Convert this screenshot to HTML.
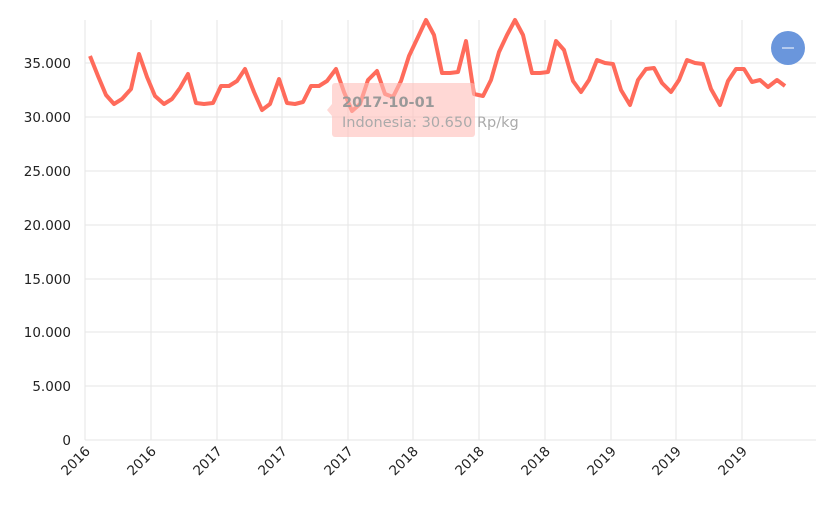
<!DOCTYPE html>
<html><head><style>body{margin:0;background:#fff;}svg{font-family:"DejaVu Sans","Liberation Sans",sans-serif;}</style></head>
<body>
<svg width="836" height="500" viewBox="0 0 836 500">
<g stroke="#e6e6e6" stroke-width="1">
<line x1="85" y1="440" x2="816" y2="440"/><line x1="85" y1="386" x2="816" y2="386"/><line x1="85" y1="332" x2="816" y2="332"/><line x1="85" y1="279" x2="816" y2="279"/><line x1="85" y1="225" x2="816" y2="225"/><line x1="85" y1="171" x2="816" y2="171"/><line x1="85" y1="117" x2="816" y2="117"/><line x1="85" y1="63" x2="816" y2="63"/>
<line x1="85" y1="20" x2="85" y2="440"/><line x1="151" y1="20" x2="151" y2="440"/><line x1="217" y1="20" x2="217" y2="440"/><line x1="282" y1="20" x2="282" y2="440"/><line x1="348" y1="20" x2="348" y2="440"/><line x1="413" y1="20" x2="413" y2="440"/><line x1="479" y1="20" x2="479" y2="440"/><line x1="545" y1="20" x2="545" y2="440"/><line x1="611" y1="20" x2="611" y2="440"/><line x1="676" y1="20" x2="676" y2="440"/><line x1="742" y1="20" x2="742" y2="440"/>
</g>
<g font-size="13.5" fill="#222" text-anchor="end">
<text x="71" y="445">0</text><text x="71" y="391">5.000</text><text x="71" y="337">10.000</text><text x="71" y="284">15.000</text><text x="71" y="230">20.000</text><text x="71" y="176">25.000</text><text x="71" y="122">30.000</text><text x="71" y="68">35.000</text>
</g>
<g font-size="13.5" fill="#222" text-anchor="end">
<text transform="translate(91,452) rotate(-45)">2016</text><text transform="translate(157,452) rotate(-45)">2016</text><text transform="translate(223,452) rotate(-45)">2017</text><text transform="translate(288,452) rotate(-45)">2017</text><text transform="translate(354,452) rotate(-45)">2017</text><text transform="translate(419,452) rotate(-45)">2018</text><text transform="translate(485,452) rotate(-45)">2018</text><text transform="translate(551,452) rotate(-45)">2018</text><text transform="translate(617,452) rotate(-45)">2019</text><text transform="translate(682,452) rotate(-45)">2019</text><text transform="translate(748,452) rotate(-45)">2019</text>
</g>
<polyline fill="none" stroke="#ff6b5b" stroke-width="4" stroke-linejoin="round" points="90,56 98,76 106,95 114,104 122,99 131,89 139,54 147,77 155,96 164,104 172,99 180,88 188,74 196,103 204,104 213,103 221,86 229,86 237,81 245,69 254,92 262,110 270,104 279,79 287,103 295,104 303,102 311,86 319,86 327,81 336,69 344,92 352,111 360,104 368,80 377,71 385,94 393,97 401,81 409,56 418,37 426,20 434,35 442,73 450,73 458,72 466,41 474,94 483,96 491,80 499,52 507,35 515,20 523,35 532,73 540,73 548,72 556,41 564,50 573,81 581,92 589,80 597,60 605,63 613,64 621,90 630,105 638,80 646,69 654,68 662,83 671,92 679,80 687,60 695,63 703,64 711,89 720,105 728,81 736,69 744,69 752,82 760,80 768,87 777,80 785,86"/>
<rect x="332" y="83" width="143" height="54" rx="3" fill="rgba(255,190,185,0.6)"/>
<polygon points="332,104 327,110 332,116" fill="rgba(255,190,185,0.6)"/>
<text x="342" y="107" font-size="14.5" font-weight="bold" fill="#999">2017-10-01</text>
<text x="342" y="127" font-size="14.5" fill="#aaa">Indonesia: 30.650 Rp/kg</text>
<circle cx="788" cy="48" r="17" fill="#6a96dc"/>
<line x1="782" y1="48" x2="794" y2="48" stroke="#fff" stroke-width="1"/>
</svg>
</body></html>
